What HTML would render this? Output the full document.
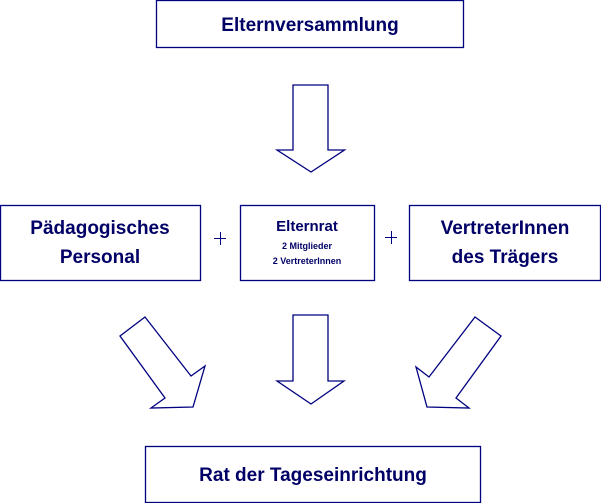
<!DOCTYPE html>
<html><head><meta charset="utf-8"><style>
html,body{margin:0;padding:0;background:#fff;}
svg{display:block;}
text{font-family:"Liberation Sans",sans-serif;font-weight:bold;fill:#000066;}
</style></head><body>
<svg width="601" height="503" viewBox="0 0 601 503" xmlns="http://www.w3.org/2000/svg">
<g fill="#fff" stroke="#000080" stroke-width="1.3">
<rect x="156.5" y="0.5" width="307" height="47"/>
<rect x="0.5" y="205.5" width="200" height="75"/>
<rect x="240.5" y="205.5" width="134" height="75"/>
<rect x="409.5" y="205.5" width="191" height="75"/>
<rect x="145.5" y="446.5" width="335" height="56"/>
<polygon points="293,85 328,85 328,150 344.5,150 311,172 277,150 293,150"/>
<polygon points="293,315 328,315 328,381 344,381 311,404 277,381 293,381"/>
<polygon points="145,317 120,336 165,398 151,408 193,407 205,366 191,376"/>
<polygon points="475,317 501,336 456,398 469,408 427,407 416,367 429,377"/>
</g>
<text x="310" y="31" font-size="19" text-anchor="middle">Elternversammlung</text>
<text x="100" y="234" font-size="19" text-anchor="middle">Pädagogisches</text>
<text x="100" y="263" font-size="19" text-anchor="middle">Personal</text>
<text x="307" y="231" font-size="15" text-anchor="middle">Elternrat</text>
<text x="307" y="249" font-size="9" text-anchor="middle">2 Mitglieder</text>
<text x="307" y="264" font-size="9" text-anchor="middle">2 VertreterInnen</text>
<text x="505" y="234" font-size="19" text-anchor="middle">VertreterInnen</text>
<text x="505" y="263" font-size="19" text-anchor="middle">des Trägers</text>
<text x="313" y="481" font-size="19" text-anchor="middle">Rat der Tageseinrichtung</text>
<g stroke="#000080" stroke-width="1">
<line x1="214" y1="238.5" x2="226" y2="238.5"/><line x1="220.5" y1="232" x2="220.5" y2="245"/>
<line x1="385" y1="237.5" x2="397" y2="237.5"/><line x1="391.5" y1="231" x2="391.5" y2="244"/>
</g>
</svg>
</body></html>
